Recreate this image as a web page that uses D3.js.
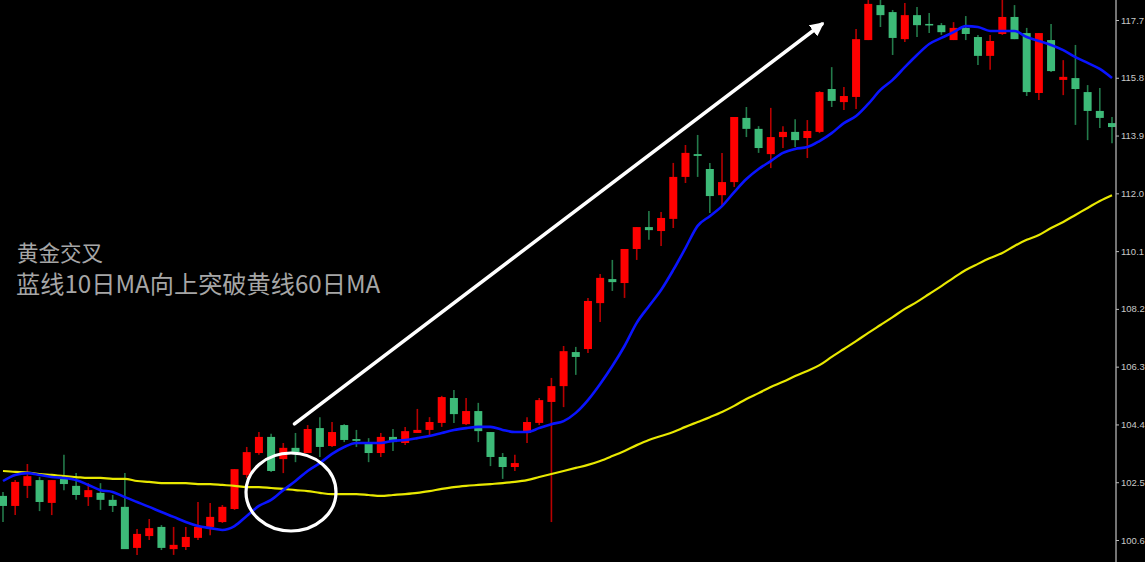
<!DOCTYPE html>
<html>
<head>
<meta charset="utf-8">
<script src="https://cdn.jsdelivr.net/npm/d3@7"></script>
<style>
  html, body { margin: 0; padding: 0; background: #000; overflow: hidden; }
  svg { display: block; }
</style>
</head>
<body>
<svg id="chart" width="1145" height="562"></svg>
<script>
// ---- data ----
const openVals  = [102.05,101.72,102.38,102.57,101.82,102.61,102.38,102.01,102.15,101.92,
                   101.69,100.34,100.73,101.03,100.30,100.37,100.67,101.03,101.19,101.62,
                   102.74,103.46,103.99,103.26,103.63,103.46,104.28,103.69,104.38,103.92,
                   103.79,103.46,103.99,103.79,104.12,104.22,104.45,105.27,104.41,104.84,
                   104.15,103.33,103.00,104.12,104.45,105.14,105.66,106.78,106.88,108.39,
                   109.18,109.05,110.17,110.89,110.76,111.16,112.54,113.29,112.80,111.94,
                   112.37,114.48,114.12,113.29,113.85,114.02,113.82,114.02,115.43,115.00,
                   115.17,117.04,118.19,117.96,117.07,117.86,117.57,117.53,117.04,117.44,
                   117.14,116.52,117.24,117.80,117.27,115.30,117.04,115.73,115.79,115.33,
                   114.71,114.31];
const highVals  = [102.18,102.57,103.10,102.67,102.57,103.40,102.80,102.47,102.47,102.08,
                   102.80,100.96,101.29,101.09,101.03,101.03,101.85,101.82,101.75,102.93,
                   103.66,104.15,104.09,103.79,104.12,104.38,104.64,104.48,104.41,104.22,
                   103.95,104.12,104.25,104.32,104.91,104.64,105.34,105.53,105.27,105.11,
                   104.15,103.46,103.40,104.64,105.27,105.93,106.98,106.95,108.56,109.35,
                   109.81,110.17,110.89,111.42,111.39,113.00,113.59,113.92,113.00,113.33,
                   114.51,114.84,114.21,114.81,114.21,114.44,114.41,115.36,116.15,115.50,
                   117.40,118.36,118.36,118.03,118.26,118.13,117.93,117.60,117.63,117.83,
                   117.21,117.21,118.36,118.19,117.44,117.27,117.57,116.38,116.88,115.56,
                   115.46,114.51];
const lowVals   = [101.19,101.42,101.98,101.55,101.42,102.24,101.92,101.72,101.59,101.52,
                   100.30,100.11,100.60,100.27,100.11,100.27,100.60,100.76,101.16,101.59,
                   102.64,103.40,102.84,102.80,103.16,103.46,103.33,103.66,103.82,103.66,
                   103.16,103.33,103.53,103.72,104.12,104.05,104.32,104.45,104.38,103.82,
                   103.03,102.61,102.87,103.79,104.38,101.19,104.97,106.03,106.75,107.77,
                   108.79,108.56,109.81,110.47,110.27,110.86,112.34,112.54,111.35,111.62,
                   112.21,113.85,113.33,112.83,113.49,113.52,113.16,113.98,114.84,114.74,
                   114.77,117.04,117.47,116.55,116.98,117.14,117.27,117.21,117.04,117.04,
                   116.22,116.06,117.21,117.07,115.20,115.07,115.99,115.23,114.25,113.75,
                   114.15,113.65];
const closeVals = [101.72,102.51,102.70,101.85,102.57,102.44,102.08,102.24,101.92,101.72,
                   100.30,100.80,100.99,100.34,100.44,100.70,101.03,101.36,101.69,102.93,
                   103.49,103.99,102.87,103.63,103.49,104.25,103.66,104.15,103.89,103.86,
                   103.46,103.99,103.82,104.18,104.22,104.48,105.30,104.74,104.84,104.18,
                   103.33,103.00,103.13,104.48,105.20,105.66,106.81,106.62,108.46,109.22,
                   109.08,110.17,110.89,110.79,111.19,112.54,113.33,113.23,111.91,112.37,
                   114.51,114.12,113.49,113.85,114.02,113.75,114.05,115.33,115.04,115.20,
                   117.07,118.23,117.86,117.11,117.86,117.53,117.53,117.30,117.44,117.24,
                   116.52,117.01,117.80,117.07,115.33,117.27,116.02,115.83,115.43,114.71,
                   114.48,114.18];
const ma10Vals  = [102.54,102.74,102.80,102.74,102.67,102.64,102.57,102.41,102.24,102.18,
                   102.01,101.85,101.69,101.52,101.36,101.19,101.06,100.99,100.93,101.06,
                   101.39,101.72,101.92,102.24,102.54,102.87,103.13,103.43,103.66,103.79,
                   103.79,103.79,103.86,103.89,103.95,104.02,104.12,104.22,104.28,104.32,
                   104.32,104.22,104.15,104.15,104.28,104.41,104.51,104.78,105.20,105.73,
                   106.32,106.98,107.74,108.29,108.82,109.48,110.20,110.93,111.25,111.58,
                   112.04,112.47,112.80,113.06,113.33,113.46,113.52,113.72,113.98,114.31,
                   114.54,114.94,115.40,115.73,116.15,116.55,116.91,117.11,117.30,117.50,
                   117.47,117.34,117.34,117.34,117.14,117.01,116.88,116.71,116.48,116.29,
                   116.09,115.79];
const ma60Vals  = [102.87,102.84,102.82,102.77,102.74,102.70,102.67,102.64,102.64,102.61,
                   102.61,102.54,102.51,102.47,102.47,102.47,102.44,102.44,102.41,102.38,
                   102.34,102.34,102.31,102.28,102.24,102.21,102.15,102.11,102.11,102.11,
                   102.08,102.05,102.08,102.11,102.15,102.21,102.28,102.34,102.38,102.41,
                   102.44,102.47,102.51,102.57,102.67,102.77,102.87,102.97,103.07,103.20,
                   103.36,103.53,103.72,103.89,104.02,104.15,104.32,104.48,104.64,104.81,
                   105.01,105.24,105.43,105.63,105.80,105.99,106.16,106.35,106.62,106.88,
                   107.14,107.41,107.67,107.93,108.20,108.43,108.69,108.95,109.22,109.48,
                   109.68,109.87,110.04,110.27,110.47,110.63,110.86,111.06,111.29,111.52,
                   111.75,111.94];
const tickVals  = [100.6, 102.5, 104.4, 106.3, 108.2, 110.1, 112.0, 113.9, 115.8, 117.7];
const tickLabels = ["100.6","102.5","104.4","106.3","108.2","110.1","112.0","113.9","115.8","117.7"];
const titleLine1 = "黄金交叉";
const titleLine2 = "蓝线10日MA向上突破黄线60日MA";
const barIndex = d3.range(openVals.length);

// ---- scales ----
const W = 1145, H = 562;
const svg = d3.select("#chart");
svg.append("rect").attr("width", W).attr("height", H).attr("fill", "#000");

const x = d3.scaleLinear().domain([0, barIndex.length - 1]).range([3, 1112]);
const y = d3.scaleLinear().domain([100.6, 117.7]).range([540, 20]);

const UP_BODY = "#ff0000", UP_WICK = "#b80000";
const DN_BODY = "#3dba78", DN_WICK = "#237a4a";

// ---- candles ----
const g = svg.append("g");
const candles = g.selectAll("g.c").data(barIndex).join("g").attr("class", "c");
candles.append("line")
  .attr("x1", i => x(i)).attr("x2", i => x(i))
  .attr("y1", i => y(highVals[i])).attr("y2", i => y(lowVals[i]))
  .attr("stroke", i => closeVals[i] >= openVals[i] ? UP_WICK : DN_WICK)
  .attr("stroke-width", 1.6);
candles.append("rect")
  .attr("x", i => x(i) - 4)
  .attr("width", 8)
  .attr("y", i => y(Math.max(openVals[i], closeVals[i])))
  .attr("height", i => Math.max(1.5, Math.abs(y(openVals[i]) - y(closeVals[i]))))
  .attr("fill", i => closeVals[i] >= openVals[i] ? UP_BODY : DN_BODY);

// ---- moving averages ----
const line = vals => d3.line().x(i => x(i)).y(i => y(vals[i])).curve(d3.curveMonotoneX)(barIndex);
svg.append("path").attr("d", line(ma60Vals)).attr("fill", "none")
  .attr("stroke", "#e8e800").attr("stroke-width", 2.2);
svg.append("path").attr("d", line(ma10Vals)).attr("fill", "none")
  .attr("stroke", "#0a14ff").attr("stroke-width", 2.6);

// ---- right axis ----
svg.append("line").attr("x1", 1116).attr("x2", 1116).attr("y1", 0).attr("y2", H)
  .attr("stroke", "#9a9a9a").attr("stroke-width", 1.5);
const axis = d3.axisRight(y).tickValues(tickVals).tickSize(3).tickPadding(2)
  .tickFormat((d, i) => tickLabels[i]);
const ax = svg.append("g").attr("transform", "translate(1116,0)").call(axis);
ax.select(".domain").remove();
ax.selectAll(".tick line").attr("stroke", "#bbbbbb");
ax.selectAll(".tick text").attr("fill", "#c8c8c8")
  .style("font-family", "'Liberation Sans', Arial, sans-serif").style("font-size", "9.5px");

// ---- annotations ----
svg.append("defs").append("marker")
  .attr("id", "arrowHead").attr("viewBox", "0 0 10 10")
  .attr("refX", 8).attr("refY", 5).attr("markerWidth", 4).attr("markerHeight", 4)
  .attr("markerUnits", "strokeWidth").attr("orient", "auto")
  .append("path").attr("d", "M0,0 L10,5 L0,10 Z").attr("fill", "#ffffff");
svg.append("line").attr("x1", x(24) - 1).attr("y1", y(104.42)).attr("x2", 822).attr("y2", 24)
  .attr("stroke", "#ffffff").attr("stroke-width", 3.5).attr("stroke-linecap", "round")
  .attr("marker-end", "url(#arrowHead)");
svg.append("ellipse").attr("cx", 291).attr("cy", 492).attr("rx", 45).attr("ry", 39)
  .attr("fill", "none").attr("stroke", "#ffffff").attr("stroke-width", 3.2);

svg.append("text").attr("x", 17).attr("y", 261).text(titleLine1)
  .attr("fill", "#a6a6a6").style("font-family", "'Noto Sans CJK SC', sans-serif").style("font-size", "21.5px");
svg.append("text").attr("x", 16).attr("y", 293).text(titleLine2)
  .attr("fill", "#a6a6a6").style("font-family", "'Noto Sans CJK SC', sans-serif").style("font-size", "24.2px");
</script>
</body>
</html>
